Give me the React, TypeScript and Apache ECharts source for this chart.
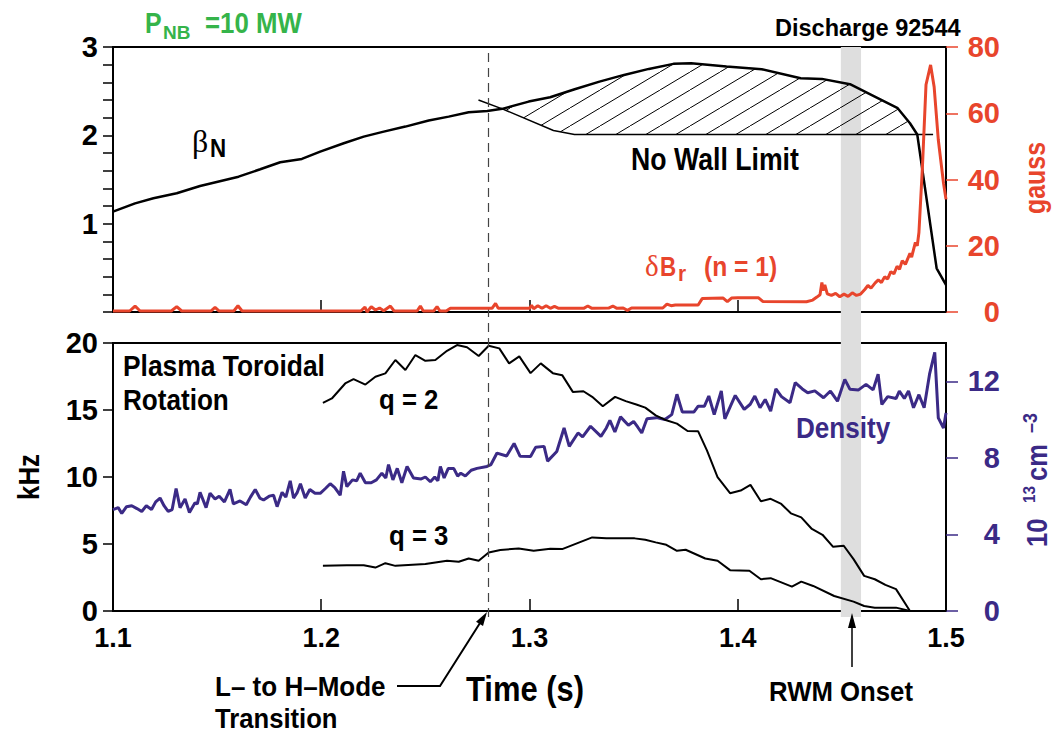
import React, { useEffect, useRef } from "react";
import * as echarts from "echarts";

const FONT = "'Liberation Sans', Arial, sans-serif";
const SERIF = "'Liberation Serif', 'DejaVu Serif', serif";
const RED = "#e8452c";
const PURPLE = "#3b2a86";
const GREEN = "#35b44a";
const BAND = "#dedede";

// ---- data ----
const betaT = [1.1, 1.1106, 1.1194, 1.1306, 1.1418, 1.1603, 1.1707, 1.1803, 1.1907, 1.1995, 1.2108, 1.2204, 1.23, 1.2404, 1.2516, 1.2612, 1.2708, 1.2797, 1.2869, 1.2996, 1.3099, 1.3217, 1.3336, 1.3454, 1.3573, 1.3691, 1.3776, 1.3946, 1.4115, 1.4302, 1.4404, 1.4539, 1.4658, 1.4768, 1.4827, 1.4862, 1.4955, 1.5];
const betaV = [1.136, 1.23, 1.288, 1.344, 1.427, 1.532, 1.616, 1.695, 1.733, 1.815, 1.91, 1.985, 2.042, 2.099, 2.167, 2.212, 2.262, 2.276, 2.3, 2.382, 2.431, 2.522, 2.608, 2.684, 2.752, 2.809, 2.816, 2.778, 2.749, 2.647, 2.639, 2.579, 2.438, 2.307, 2.137, 2.01, 0.495, 0.306];

const noWallT = [1.2755, 1.2869, 1.3115, 1.3216, 1.4938];
const noWallV = [2.4, 2.3, 2.055, 2.01, 2.01];

const HATCH_START = 1.2869;
const HATCH_END = 1.4862;

const brT = [1.1, 1.108, 1.1106, 1.113, 1.128, 1.1306, 1.133, 1.147, 1.149, 1.151, 1.158, 1.16, 1.162, 1.219, 1.221, 1.222, 1.224, 1.226, 1.228, 1.23, 1.2332, 1.235, 1.246, 1.2476, 1.249, 1.254, 1.2556, 1.257, 1.26, 1.262, 1.282, 1.2837, 1.285, 1.3, 1.301, 1.302, 1.304, 1.306, 1.308, 1.31, 1.312, 1.314, 1.326, 1.328, 1.33, 1.338, 1.34, 1.342, 1.345, 1.347, 1.349, 1.364, 1.366, 1.368, 1.37, 1.381, 1.383, 1.393, 1.395, 1.397, 1.4, 1.41, 1.412, 1.433, 1.436, 1.438, 1.4395, 1.4404, 1.441, 1.4418, 1.443, 1.445, 1.447, 1.449, 1.451, 1.453, 1.455, 1.457, 1.459, 1.461, 1.4625, 1.464, 1.466, 1.4675, 1.469, 1.4705, 1.472, 1.4735, 1.475, 1.4765, 1.4777, 1.479, 1.4805, 1.4827, 1.4835, 1.4853, 1.4862, 1.487, 1.4887, 1.4904, 1.4926, 1.4943, 1.4963, 1.4988, 1.5];
const brV = [0.3, 0.3, 1.8, 0.3, 0.3, 1.6, 0.3, 0.3, 1.4, 0.3, 0.3, 1.9, 0.3, 0.3, 1.5, 0, 1.6, 0.6, 1.2, 0.4, 1.8, 0.3, 0.3, 1.8, 0.3, 0.3, 1.6, 0.3, 0.3, 1.1, 1.1, 2.6, 1.1, 1.1, 2.0, 1.0, 1.9, 1.1, 1.9, 1.1, 1.7, 1.1, 1.1, 1.8, 1.1, 1.2, 1.8, 1.1, 1.2, 0.5, 1.2, 1.2, 2.4, 1.9, 2.1, 2.1, 4.1, 4.2, 3.1, 4.2, 4.3, 4.3, 3.2, 3.1, 3.6, 4.5, 5.2, 8.9, 6.5, 8.2, 5.5, 5.0, 5.6, 4.6, 5.4, 4.7, 5.8, 5.0, 5.4, 6.8, 8.0, 7.2, 8.8, 9.7, 8.9, 10.6, 10.0, 12.2, 11.5, 13.8, 12.9, 15.5, 14.4, 17.7, 16.6, 21.0, 20.0, 24.0, 44.0, 68.6, 74.6, 68.0, 52.0, 38.9, 34.0];

const densT = [1.1, 1.1025, 1.1042, 1.1065, 1.109, 1.1115, 1.1138, 1.116, 1.1185, 1.1205, 1.1226, 1.1245, 1.1265, 1.1284, 1.1303, 1.1322, 1.1346, 1.1367, 1.1394, 1.1405, 1.1418, 1.1447, 1.1466, 1.149, 1.151, 1.1535, 1.1562, 1.1578, 1.161, 1.164, 1.166, 1.1683, 1.1705, 1.1723, 1.175, 1.1771, 1.1788, 1.1812, 1.183, 1.1851, 1.1867, 1.1885, 1.19, 1.1923, 1.1945, 1.197, 1.1995, 1.202, 1.2043, 1.2065, 1.2091, 1.2107, 1.2123, 1.215, 1.217, 1.2187, 1.2212, 1.224, 1.2265, 1.2291, 1.231, 1.2323, 1.2344, 1.2365, 1.2387, 1.2412, 1.2443, 1.248, 1.25, 1.2524, 1.2545, 1.256, 1.2572, 1.259, 1.261, 1.2636, 1.2655, 1.267, 1.2692, 1.272, 1.2748, 1.2796, 1.2815, 1.2844, 1.289, 1.2926, 1.2955, 1.3005, 1.303, 1.307, 1.3087, 1.3131, 1.3166, 1.3191, 1.3233, 1.3255, 1.3293, 1.3343, 1.3369, 1.3386, 1.341, 1.3437, 1.3475, 1.35, 1.352, 1.3539, 1.3564, 1.361, 1.365, 1.3683, 1.3708, 1.3734, 1.379, 1.381, 1.384, 1.3861, 1.3887, 1.3921, 1.3938, 1.3965, 1.3988, 1.4031, 1.406, 1.4082, 1.4107, 1.4132, 1.4158, 1.4183, 1.421, 1.4251, 1.4276, 1.431, 1.4336, 1.437, 1.4412, 1.4445, 1.4479, 1.4514, 1.4539, 1.458, 1.4616, 1.465, 1.4674, 1.4692, 1.472, 1.476, 1.4776, 1.48, 1.482, 1.4844, 1.487, 1.4895, 1.4921, 1.4946, 1.4963, 1.4988, 1.5];
const densV = [5.3, 5.4, 5.1, 5.45, 5.5, 5.35, 5.2, 5.5, 5.3, 5.7, 5.9, 5.5, 5.2, 5.3, 6.4, 5.4, 5.85, 5.15, 5.65, 5.6, 6.2, 5.4, 6.15, 5.85, 6.0, 5.7, 6.35, 5.6, 5.75, 5.55, 5.95, 6.35, 5.9, 5.8, 6.0, 6.05, 5.45, 6.2, 5.95, 6.8, 5.9, 6.2, 6.65, 5.9, 6.35, 6.15, 6.15, 6.4, 6.65, 6.45, 6.05, 7.3, 6.5, 6.85, 6.8, 7.2, 6.7, 6.7, 6.85, 7.2, 6.95, 7.65, 6.85, 7.45, 6.7, 7.55, 6.95, 6.9, 7.0, 6.75, 7.0, 6.8, 7.55, 6.95, 7.45, 7.45, 7.05, 7.2, 7.05, 7.35, 7.45, 7.55, 7.65, 8.25, 8.1, 8.75, 8.08, 8.07, 8.56, 8.6, 7.83, 8.33, 9.56, 8.6, 9.3, 9.1, 9.65, 9.12, 9.56, 9.96, 9.35, 10.14, 9.7, 9.9, 9.6, 9.3, 10.04, 10.1, 10.0, 10.26, 11.32, 10.39, 10.4, 10.7, 10.7, 11.23, 10.26, 11.49, 10.04, 10.7, 11.26, 10.53, 10.8, 11.23, 10.62, 11.05, 10.44, 11.61, 11.2, 10.88, 11.93, 11.6, 11.4, 11.5, 11.14, 11.49, 10.96, 12.1, 11.58, 11.55, 11.84, 11.55, 12.37, 10.79, 11.2, 11.1, 11.49, 11.1, 11.49, 10.62, 11.3, 10.62, 12.37, 13.51, 10.09, 9.56, 10.35];

const q2T = [1.2008, 1.2051, 1.2115, 1.2155, 1.2212, 1.226, 1.2308, 1.2356, 1.2404, 1.2452, 1.25, 1.2548, 1.2604, 1.2652, 1.27, 1.2756, 1.2804, 1.2855, 1.2902, 1.2951, 1.3005, 1.3054, 1.3112, 1.3157, 1.3208, 1.3259, 1.3301, 1.3352, 1.3411, 1.3462, 1.3513, 1.3556, 1.3606, 1.3657, 1.3708, 1.3759, 1.381, 1.3852, 1.3903, 1.3963, 1.4014, 1.4061, 1.4111, 1.4158, 1.4209, 1.4255, 1.4305, 1.4356, 1.4407, 1.4458, 1.4509, 1.4556, 1.4607, 1.4658, 1.4709, 1.476, 1.4827];
const q2V = [15.53, 15.86, 16.98, 17.3, 16.9, 17.48, 17.73, 18.73, 17.98, 19.1, 18.67, 18.73, 19.42, 19.85, 19.68, 19.03, 19.8, 19.6, 18.48, 19.0, 17.75, 18.48, 17.75, 17.6, 16.35, 16.4, 15.98, 15.28, 15.98, 15.66, 15.41, 15.18, 14.6, 14.23, 13.98, 13.43, 13.41, 11.99, 9.99, 8.79, 8.99, 9.41, 8.19, 8.37, 7.99, 7.29, 6.99, 6.12, 5.69, 4.79, 4.87, 3.87, 2.62, 2.37, 1.95, 1.63, 0];

const q3T = [1.2008, 1.2123, 1.2204, 1.226, 1.2308, 1.2356, 1.25, 1.2604, 1.266, 1.2708, 1.2756, 1.2804, 1.286, 1.2948, 1.302, 1.31, 1.3157, 1.3301, 1.3369, 1.3505, 1.3556, 1.3606, 1.3657, 1.3708, 1.375, 1.3844, 1.3903, 1.3963, 1.4056, 1.4111, 1.4158, 1.426, 1.4305, 1.4362, 1.4463, 1.4556, 1.4607, 1.4658, 1.476, 1.4827];
const q3V = [3.37, 3.42, 3.42, 3.24, 3.57, 3.37, 3.5, 3.75, 3.67, 3.92, 3.75, 4.37, 4.55, 4.67, 4.49, 4.65, 4.62, 5.49, 5.42, 5.42, 5.32, 5.12, 4.94, 4.49, 4.57, 3.92, 3.75, 3.05, 3.0, 2.37, 2.45, 1.82, 2.19, 1.87, 1.12, 0.7, 0.37, 0.25, 0.25, 0];

const LH_TIME = 1.28;
const RWM_BAND = [1.4495, 1.4592];

const xTickLabels = ["1.1", "1.2", "1.3", "1.4", "1.5"];
const betaTicks = [1, 2, 3];
const gaussTicks = [0, 20, 40, 60, 80];
const khzTicks = [0, 5, 10, 15, 20];
const densTicks = [0, 4, 8, 12];

const zip = (t: number[], v: number[]) => t.map((x, i) => [x, v[i]]);
const interp = (t: number[], v: number[], x: number) => {
  for (let i = 0; i < t.length - 1; i++) {
    if (x >= t[i] && x <= t[i + 1]) {
      const f = (x - t[i]) / (t[i + 1] - t[i]);
      return v[i] + f * (v[i + 1] - v[i]);
    }
  }
  return v[v.length - 1];
};

const bold = (size: number, fam: string = FONT) => `bold ${size}px ${fam}`;

function txt(text: string, x: number, y: number, size: number, opts: any = {}) {
  const align = opts.align || "left";
  return {
    type: "text",
    x,
    y,
    rotation: opts.rotation || 0,
    scaleX: opts.sx || 1,
    z: 100,
    style: {
      text,
      font: opts.font || bold(size),
      fill: opts.color || "#000",
      align,
      textAlign: align,
      verticalAlign: "middle",
      textVerticalAlign: "middle",
    },
  };
}

export default function App() {
  const ref = useRef<HTMLDivElement>(null);
  useEffect(() => {
    if (!ref.current) return;
    const chart = echarts.init(ref.current, undefined, { renderer: "svg" });

    const canvas = document.createElement("canvas");
    canvas.width = 30;
    canvas.height = 18;
    const ctx = canvas.getContext("2d");
    if (ctx) {
      ctx.strokeStyle = "#000";
      ctx.lineWidth = 1;
      ctx.beginPath();
      ctx.moveTo(-3, 19.8);
      ctx.lineTo(33, -1.8);
      ctx.stroke();
    }
    const pattern: any = { image: canvas, repeat: "repeat", imageWidth: 30, imageHeight: 18 };

    const upper = zip(betaT, betaV).filter((p) => p[0] >= HATCH_START && p[0] <= HATCH_END);
    const lower = [[HATCH_END, interp(noWallT, noWallV, HATCH_END)]].concat(
      zip(noWallT, noWallV).filter((p) => p[0] >= HATCH_START && p[0] < HATCH_END).reverse()
    );
    const hatchPoly = upper.concat(lower);

    const axisLabelFont = { fontFamily: FONT, fontWeight: "bold" as const };

    const option: any = {
      animation: false,
      textStyle: { fontFamily: FONT },
      grid: [
        { left: 113, top: 47, width: 833, height: 265, show: true, borderColor: "#000", borderWidth: 2, backgroundColor: "transparent" },
        { left: 113, top: 343, width: 833, height: 268, show: true, borderColor: "#000", borderWidth: 2, backgroundColor: "transparent" },
        { left: 113, top: 47, width: 833, height: 570, show: false },
      ],
      xAxis: [
        {
          gridIndex: 0, type: "value", min: 1.1, max: 1.5, interval: 0.1,
          axisLine: { show: true, onZero: false, lineStyle: { color: "#000", width: 2 } },
          axisTick: { show: true, inside: true, length: 12, lineStyle: { color: "#000", width: 1.5 } },
          axisLabel: { show: false },
          splitLine: { show: false },
        },
        {
          gridIndex: 1, type: "value", min: 1.1, max: 1.5, interval: 0.1,
          axisLine: { show: true, onZero: false, lineStyle: { color: "#000", width: 2 } },
          axisTick: { show: true, inside: true, length: 12, lineStyle: { color: "#000", width: 1.5 } },
          axisLabel: {
            show: true, ...axisLabelFont, fontSize: 27, color: "#000", margin: 13,
            formatter: (v: number) => xTickLabels[Math.round((v - 1.1) * 10)] ?? "",
          },
          splitLine: { show: false },
        },
        { gridIndex: 2, type: "value", min: 1.1, max: 1.5, show: false },
      ],
      yAxis: [
        {
          gridIndex: 0, type: "value", min: 0, max: 3, interval: 1, position: "left",
          axisLine: { show: true, onZero: false, lineStyle: { color: "#000", width: 2 } },
          axisTick: { show: true, length: 10, lineStyle: { color: "#000", width: 1.5 } },
          minorTick: { show: true, splitNumber: 5, length: 10, lineStyle: { color: "#000", width: 1.5 } },
          axisLabel: { show: true, ...axisLabelFont, fontSize: 29, color: "#000", margin: 15, customValues: betaTicks },
          splitLine: { show: false },
          minorSplitLine: { show: false },
        },
        {
          gridIndex: 0, type: "value", min: 0, max: 80, interval: 20, position: "right",
          axisLine: { show: true, onZero: false, lineStyle: { color: "#000", width: 2 } },
          axisTick: { show: true, length: 12, lineStyle: { color: RED, width: 1.5 }, customValues: gaussTicks },
          axisLabel: { show: true, ...axisLabelFont, fontSize: 29, color: RED, margin: 54, align: "right", customValues: gaussTicks },
          splitLine: { show: false },
        },
        {
          gridIndex: 1, type: "value", min: 0, max: 20, interval: 5, position: "left",
          axisLine: { show: true, onZero: false, lineStyle: { color: "#000", width: 2 } },
          axisTick: { show: true, length: 10, lineStyle: { color: "#000", width: 1.5 }, customValues: khzTicks },
          axisLabel: { show: true, ...axisLabelFont, fontSize: 29, color: "#000", margin: 15, customValues: khzTicks },
          splitLine: { show: false },
        },
        {
          gridIndex: 1, type: "value", min: 0, max: 14, interval: 2, position: "right",
          axisLine: { show: true, onZero: false, lineStyle: { color: "#000", width: 2 } },
          axisTick: { show: true, length: 12, lineStyle: { color: PURPLE, width: 1.5 }, customValues: densTicks },
          axisLabel: { show: true, ...axisLabelFont, fontSize: 29, color: PURPLE, margin: 54, align: "right", customValues: densTicks },
          splitLine: { show: false },
        },
        { gridIndex: 2, type: "value", min: 0, max: 1, show: false },
      ],
      series: [
        {
          type: "line", xAxisIndex: 2, yAxisIndex: 4, z: -1, silent: true,
          data: [[1.1, 0], [1.5, 0]], symbol: "none", lineStyle: { opacity: 0 },
          markArea: {
            silent: true,
            itemStyle: { color: BAND },
            data: [[{ xAxis: RWM_BAND[0] }, { xAxis: RWM_BAND[1] }]],
          },
          markLine: {
            silent: true, symbol: "none", label: { show: false },
            lineStyle: { color: "#444", width: 1.2, type: [9, 6] },
            data: [{ xAxis: LH_TIME }],
          },
        },
        {
          type: "custom", xAxisIndex: 0, yAxisIndex: 0, z: 2, silent: true,
          data: [[1.38, 2.4]],
          renderItem: (_params: any, api: any) => {
            const pts = hatchPoly.map((p) => api.coord(p));
            return { type: "polygon", shape: { points: pts }, style: { fill: pattern, stroke: null } };
          },
        },
        {
          type: "line", xAxisIndex: 0, yAxisIndex: 0, z: 3, data: zip(noWallT, noWallV),
          symbol: "none", lineStyle: { color: "#000", width: 1.5 },
        },
        {
          type: "line", xAxisIndex: 0, yAxisIndex: 0, z: 4, data: zip(betaT, betaV),
          symbol: "none", lineStyle: { color: "#000", width: 2.5 },
        },
        {
          type: "line", xAxisIndex: 0, yAxisIndex: 1, z: 5, data: zip(brT, brV),
          symbol: "none", lineStyle: { color: RED, width: 3 },
        },
        {
          type: "line", xAxisIndex: 1, yAxisIndex: 3, z: 3, data: zip(densT, densV),
          symbol: "none", lineStyle: { color: PURPLE, width: 3 },
        },
        {
          type: "line", xAxisIndex: 1, yAxisIndex: 2, z: 4, data: zip(q2T, q2V),
          symbol: "none", lineStyle: { color: "#000", width: 2 },
        },
        {
          type: "line", xAxisIndex: 1, yAxisIndex: 2, z: 4, data: zip(q3T, q3V),
          symbol: "none", lineStyle: { color: "#000", width: 2 },
        },
      ],
      graphic: {
        elements: [
          txt("P", 145, 23, 29, { color: GREEN, sx: 0.86 }),
          txt("NB", 163, 32, 19, { color: GREEN }),
          txt("=10 MW", 205, 23, 29, { color: GREEN, sx: 0.89 }),
          txt("Discharge 92544", 775, 27, 24, { sx: 0.98 }),
          txt("\u03b2", 192, 141, 30, { font: `normal 32px ${SERIF}` }),
          txt("N", 210, 148, 26, { sx: 0.86 }),
          txt("No Wall Limit", 715, 159, 31, { align: "center", sx: 0.86 }),
          txt("\u03b4", 645, 266, 28, { color: RED, font: `normal 29px ${SERIF}` }),
          txt("B", 660, 266, 28, { color: RED, sx: 0.8 }),
          txt("r", 678, 274, 22, { color: RED, sx: 0.95 }),
          txt("(n = 1)", 704, 266, 28, { color: RED, sx: 0.88 }),
          txt("gauss", 1035, 178, 29, { color: RED, align: "center", rotation: Math.PI / 2, sx: 0.86 }),
          txt("Plasma Toroidal", 123, 365, 30, { sx: 0.88 }),
          txt("Rotation", 123, 400, 30, { sx: 0.87 }),
          txt("q = 2", 379, 400, 28, { sx: 0.92 }),
          txt("q = 3", 389, 536, 28, { sx: 0.92 }),
          txt("Density", 796, 428, 29, { color: PURPLE, sx: 0.9 }),
          txt("kHz", 29, 477, 30, { align: "center", rotation: Math.PI / 2, sx: 0.86 }),
          {
            type: "group", x: 1036, y: 478, rotation: Math.PI / 2, z: 100,
            children: [
              txt("10", -69, 1, 29, { color: PURPLE, sx: 0.88 }),
              txt("13", -25, -7, 17, { color: PURPLE, sx: 0.9 }),
              txt("cm", -3, 1, 29, { color: PURPLE, sx: 0.88 }),
              txt("\u20133", 45, -6, 20, { color: PURPLE, sx: 0.9 }),
            ],
          },
          txt("L\u2013 to H\u2013Mode", 215, 687, 28, { sx: 0.93 }),
          txt("Transition", 215, 719, 27, { sx: 0.95 }),
          txt("Time (s)", 525, 689, 36, { align: "center", sx: 0.86 }),
          txt("RWM Onset", 769, 692, 28, { sx: 0.92 }),
          {
            type: "polyline", z: 100,
            shape: { points: [[397, 686], [440, 686], [480, 623]] },
            style: { stroke: "#000", lineWidth: 2, fill: null },
          },
          {
            type: "polygon", z: 100,
            shape: { points: [[487, 612], [483, 626], [476, 621.7]] },
            style: { fill: "#000" },
          },
          {
            type: "line", z: 100,
            shape: { x1: 852, y1: 667, x2: 852, y2: 626 },
            style: { stroke: "#000", lineWidth: 1.5 },
          },
          {
            type: "polygon", z: 100,
            shape: { points: [[852, 613], [856, 628], [848, 628]] },
            style: { fill: "#000" },
          },
        ],
      },
    };

    chart.setOption(option);
    return () => chart.dispose();
  }, []);

  return (
    <div
      ref={ref}
      style={{ position: "absolute", left: 0, top: 0, width: 1053, height: 733, background: "#fff" }}
    />
  );
}
